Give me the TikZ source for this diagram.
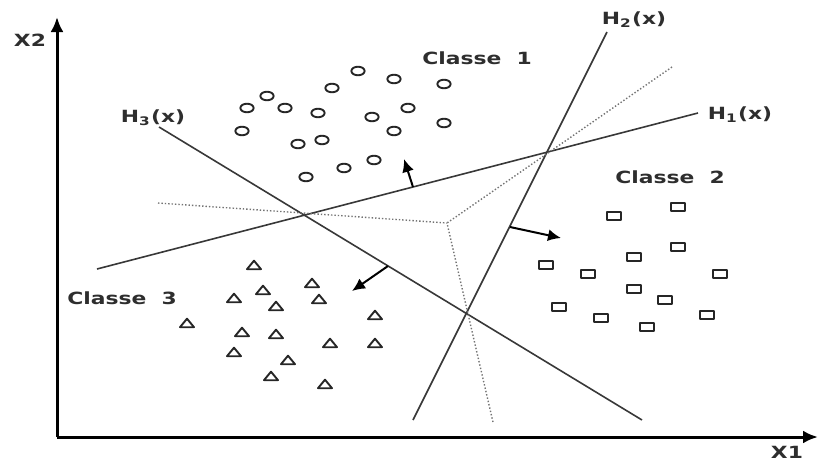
\documentclass[tikz,border=0pt]{standalone}
\usepackage{fontspec}
\usepackage{graphicx}
\setsansfont{DejaVu Sans}
\usetikzlibrary{arrows.meta}

\newcommand{\wide}[1]{\scalebox{1.3}[1]{#1}}

\begin{document}
\begin{tikzpicture}[x=0.5pt, y=-0.5pt,
    axe/.style={line width=1.5pt, -{Latex[length=7.5pt,width=6.5pt]}},
    hyper/.style={line width=0.8pt, black!78},
    bissec/.style={line width=0.7pt, black!55, densely dotted},
    normale/.style={line width=1pt, -{Latex[length=6.5pt,width=6pt]}},
    lbl/.style={font=\sffamily\bfseries\fontsize{8.4}{10}\selectfont, text=black!82, inner sep=0pt},
    pt/.style={line width=0.95pt, black!85, line join=round}]

    \useasboundingbox (0,0) rectangle (821,461);

    % Axes
    \coordinate (O) at (57,437);
    \coordinate (ax1) at (818,437);
    \coordinate (ax2) at (57,17);
    \draw[axe] (O) -- (ax1);
    \draw[axe] (O) -- (ax2);
    \node[lbl] (x1) at (787,452) {\wide{X1}};
    \node[lbl] (x2) at (30,40) {\wide{X2}};

    % Hyperplans H1, H2, H3
    \coordinate (h1a) at (97,269);
    \coordinate (h1b) at (698,113);
    \coordinate (h2a) at (413,420);
    \coordinate (h2b) at (607,32);
    \coordinate (h3a) at (159,127);
    \coordinate (h3b) at (642,420);
    \draw[hyper] (h1a) -- (h1b);
    \draw[hyper] (h2a) -- (h2b);
    \draw[hyper] (h3a) -- (h3b);
    \node[lbl] (lh1) at (740,115) {\wide{H\textsubscript{1}(x)}};
    \node[lbl] (lh2) at (634,20) {\wide{H\textsubscript{2}(x)}};
    \node[lbl] (lh3) at (153,118) {\wide{H\textsubscript{3}(x)}};

    % Frontieres de decision (pointilles)
    \coordinate (v) at (447,223);
    \coordinate (d1) at (158,203);
    \coordinate (d2) at (672,67);
    \coordinate (d3) at (493,422);
    \draw[bissec] (d1) -- (v);
    \draw[bissec] (d2) -- (v);
    \draw[bissec] (d3) -- (v);

    % Normales
    \coordinate (n1) at (413,187);
    \coordinate (n1t) at (404,159);
    \coordinate (n2) at (510,227);
    \coordinate (n2t) at (561,238);
    \coordinate (n3) at (388,266);
    \coordinate (n3t) at (352,291);
    \draw[normale] (n1) -- (n1t);
    \draw[normale] (n2) -- (n2t);
    \draw[normale] (n3) -- (n3t);

    % Classe 1 : cercles
    \foreach \x/\y in {358/71, 394/79, 444/84, 332/88, 267/96, 247/108, 285/108,
        318/113, 408/108, 372/117, 242/131, 394/131, 444/123, 322/140, 298/144,
        374/160, 344/168, 306/177}
        \draw[pt] (\x,\y) ellipse [x radius=6.6, y radius=4.3];

    % Classe 2 : carres
    \foreach \x/\y in {614/216, 678/207, 634/257, 678/247, 546/265, 588/274, 720/274,
        634/289, 665/300, 559/307, 601/318, 647/327, 707/315}
        \draw[pt] (\x,\y) ++(-7.1,-4.3) rectangle ++(14.2,8.6);

    % Classe 3 : triangles
    \foreach \x/\y in {254/265, 312/283, 263/290, 234/298, 319/299, 276/306, 187/323,
        375/315, 242/332, 276/334, 330/343, 375/343, 234/352, 288/360, 271/376, 325/384}
        \draw[pt] (\x,\y) ++(-7,4.2) -- ++(7,-8.5) -- ++(7,8.5) -- cycle;

    \node[lbl] (c1) at (477,58) {\wide{Classe\ \ 1}};
    \node[lbl] (c2) at (670,177) {\wide{Classe\ \ 2}};
    \node[lbl] (c3) at (122,298) {\wide{Classe\ \ 3}};
\end{tikzpicture}
\end{document}
